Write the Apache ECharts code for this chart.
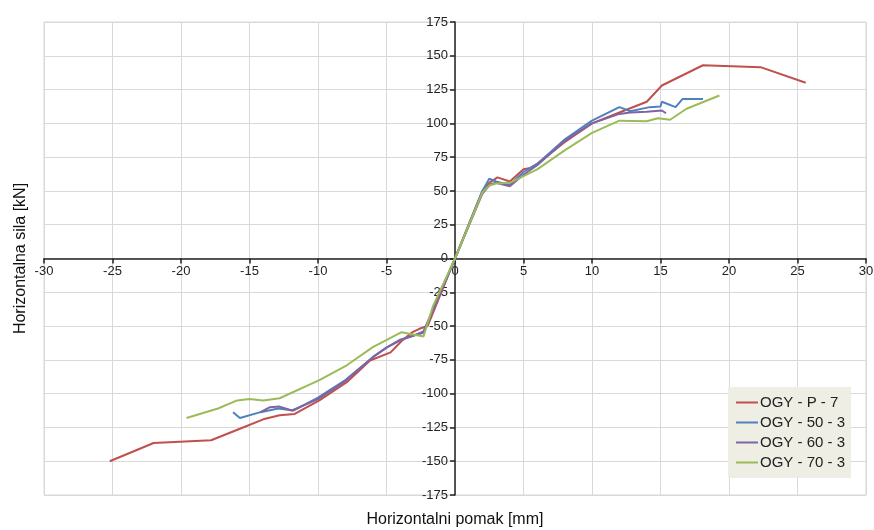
<!DOCTYPE html>
<html><head><meta charset="utf-8">
<script src="https://cdn.jsdelivr.net/npm/echarts@6/dist/echarts.min.js"></script>
<style>html,body{margin:0;padding:0;background:#fff}#c{width:874px;height:530px}</style>
</head><body><div id="c"></div>
<script>
const seriesNames = ['OGY - P - 7', 'OGY - 50 - 3', 'OGY - 60 - 3', 'OGY - 70 - 3'];
const xTicks = [-30,-25,-20,-15,-10,-5,0,5,10,15,20,25,30];
const yTicks = [-175,-150,-125,-100,-75,-50,-25,0,25,50,75,100,125,150,175];
const dataP7 = [[-25.2,-150],[-22,-136.5],[-17.8,-134.5],[-15.7,-126],[-14,-119],[-12.8,-116],[-11.7,-115],[-9.9,-105],[-7.9,-91.5],[-6.2,-75.5],[-4.7,-69.5],[-3.9,-61],[-3.1,-54.5],[-2.6,-52],[-2,-50],[0,0],[2,50],[2.5,56],[3.1,60],[4,57],[5,66],[5.5,67],[6,70],[8,86],[10,100],[12,108],[14,116],[15.1,128],[18.1,143],[22.3,141.6],[25.6,130]];
const data50 = [[-16.2,-113.7],[-15.7,-118],[-14.2,-113.7],[-12.9,-111],[-11.8,-112.5],[-10,-103],[-8,-90],[-6,-73],[-5,-66],[-4,-60],[-3,-57],[-2.3,-54],[0,0],[2,50],[2.5,59],[3,57],[4,54.5],[5,64],[6,70],[8,88],[10,102],[12,112],[12.8,109],[14.2,112],[15,112.5],[15.1,116],[16.1,112],[16.6,118],[18.1,118]];
const data60 = [[-14.2,-113.7],[-13.5,-110],[-12.8,-109.6],[-11.9,-112.5],[-10,-104],[-8,-90.5],[-6,-73],[-5,-66],[-4,-60.5],[-3,-57],[-2.3,-55],[0,0],[2,48],[2.6,55],[3,56],[4,53.5],[5,62],[6,69],[8,87],[10,100],[12,107],[12.8,108],[14,108.5],[15.1,109.5],[15.4,107.5]];
const data70 = [[-19.6,-118],[-17.3,-111],[-15.9,-105],[-15,-103.9],[-14,-105],[-12.8,-103.4],[-9.9,-90],[-7.9,-79],[-6,-65.6],[-3.9,-54.5],[-2.3,-57.7],[-1.6,-35],[0,0],[2,49],[2.5,54],[3,55.5],[4,56],[5,61],[6,66],[8,80],[10,93],[12,102],[14,101.6],[14.8,103.8],[15.7,102.7],[16.9,110.8],[19.3,120.6]];
const colors = ['#c0504d','#4f81bd','#8064a2','#9bbb59'];
const allData = [dataP7, data50, data60, data70];

const font = 'Liberation Sans, Arial, sans-serif';
const chart = echarts.init(document.getElementById('c'), null, {renderer:'canvas'});
chart.setOption({
  animation:false,
  color: colors,
  grid:{left:44, right:8, top:22, bottom:35, show:true, borderColor:'#d9d9d9', borderWidth:1,
        containLabel:false, outerBoundsMode:'none'},
  legend:{
    orient:'vertical', left:728, top:387, width:120,
    backgroundColor:'#eeeee5', padding:[8,6,8,8], itemGap:5,
    icon:'rect', itemWidth:22, itemHeight:2,
    textStyle:{fontFamily:font, fontSize:15, color:'#222', padding:[0,0,0,-3]},
    data: seriesNames
  },
  xAxis:{
    type:'value', min:xTicks[0], max:xTicks[xTicks.length-1], interval:5,
    position:'bottom', offset:-236.5,
    name:'Horizontalni pomak [mm]', nameLocation:'middle', nameGap:253,
    nameTextStyle:{fontFamily:font, fontSize:16, color:'#111'},
    axisLine:{onZero:false, lineStyle:{color:'#222', width:1.5}},
    axisTick:{show:true, length:5, lineStyle:{color:'#222', width:1.5}},
    axisLabel:{fontFamily:font, fontSize:13, color:'#222', margin:6},
    splitLine:{show:true, lineStyle:{color:'#d9d9d9', width:1}}
  },
  yAxis:{
    type:'value', min:yTicks[0], max:yTicks[yTicks.length-1], interval:25,
    position:'left', offset:-411,
    name:'Horizontalna sila [kN]', nameLocation:'middle', nameGap:426, nameRotate:90,
    nameTextStyle:{fontFamily:font, fontSize:16, color:'#111'},
    axisLine:{onZero:false, lineStyle:{color:'#222', width:1.5}},
    axisTick:{show:true, length:5, lineStyle:{color:'#222', width:1.5}},
    axisLabel:{fontFamily:font, fontSize:13, color:'#222', margin:7},
    splitLine:{show:true, lineStyle:{color:'#d9d9d9', width:1}}
  },
  series: seriesNames.map((n,i)=>({
    name:n, type:'line', data:allData[i], showSymbol:false, symbol:'none',
    lineStyle:{width:2, color:colors[i]}, itemStyle:{color:colors[i]}
  }))
});
</script></body></html>
